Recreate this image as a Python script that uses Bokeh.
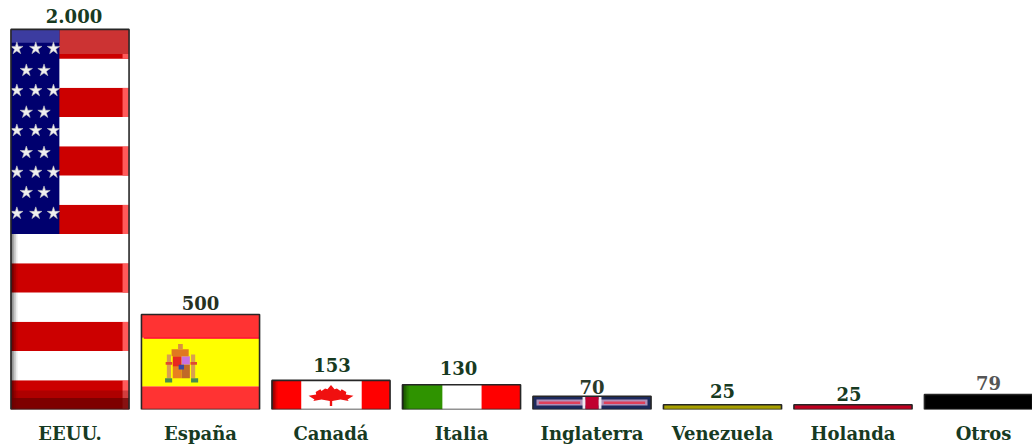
from bokeh.embed import file_html
from bokeh.models import ColumnDataSource, FixedTicker, Range1d
from bokeh.plotting import figure
from bokeh.resources import INLINE

# Thousands of people by country of residence
countries = ["EEUU.", "España", "Canadá", "Italia", "Inglaterra", "Venezuela", "Holanda", "Otros"]
amounts = [2000, 500, 153, 130, 70, 25, 25, 79]
amount_labels = ["2.000", "500", "153", "130", "70", "25", "25", "79"]

BAR_WIDTH = 0.905
BORDER = "#262626"
TEXT_GREEN = "#173a22"

p = figure(width=1032, height=447, output_backend="svg", toolbar_location=None,
           x_range=Range1d(-0.5326, 7.3755), y_range=Range1d(0, 2152),
           min_border_left=0, min_border_right=0, min_border_top=0, min_border_bottom=38,
           background_fill_color="white", border_fill_color="white", outline_line_color=None)
p.grid.visible = False
p.yaxis.visible = False

# Country names sit on the category axis
ax = p.xaxis[0]
ax.ticker = FixedTicker(ticks=list(range(len(countries))))
ax.major_label_overrides = {i: c for i, c in enumerate(countries)}
ax.axis_line_color = None
ax.major_tick_line_color = None
ax.minor_tick_line_color = None
ax.major_label_standoff = 7
ax.major_label_text_font = "DejaVu Serif"
ax.major_label_text_font_style = "bold"
ax.major_label_text_font_size = "18px"
ax.major_label_text_color = TEXT_GREEN

# Flag artwork is described in fractions of its own bar: x from the left, y from the bottom
rects = {"left": [], "right": [], "top": [], "bottom": [], "fill_color": [], "fill_alpha": []}


def band(i, x0, x1, y0, y1, color, alpha=1.0):
    left = i - BAR_WIDTH / 2
    rects["left"].append(left + x0 * BAR_WIDTH)
    rects["right"].append(left + x1 * BAR_WIDTH)
    rects["bottom"].append(y0 * amounts[i])
    rects["top"].append(y1 * amounts[i])
    rects["fill_color"].append(color)
    rects["fill_alpha"].append(alpha)


def edge_shade(i, y0=0.0, y1=1.0, color="#000000", alphas=(0.55, 0.35, 0.2, 0.08), step=0.014):
    for k, a in enumerate(alphas):
        band(i, k * step, (k + 1) * step, y0, y1, color, a)


# United States: thirteen stripes with a canton covering the upper seven
for s in range(13):
    band(0, 0, 1, s / 13, (s + 1) / 13, "#cc0000" if s % 2 == 0 else "#ffffff")
    if s % 2 == 0:
        band(0, 0.945, 1, s / 13, (s + 1) / 13, "#ff5a5a")
band(0, 0, 1, 12 / 13 + 0.012, 1, "#cc3333")
band(0, 0, 0.41, 6 / 13, 1, "#00006e")
band(0, 0, 0.41, 0.965, 1, "#3c3ca0")
edge_shade(0, 0, 6 / 13)
band(0, 0, 1, 0, 0.03, "#6a0000", 0.8)
band(0, 0, 1, 0.03, 0.05, "#6a0000", 0.3)

# Spain: red, yellow, red
band(1, 0, 1, 0, 0.245, "#ff3333")
band(1, 0, 1, 0.245, 0.755, "#ffff00")
band(1, 0, 1, 0.755, 1, "#ff3333")
band(1, 0.02, 1, 0.745, 0.76, "#ff0033")
# Coat of arms: pillars, shield quarters, crown and bases
band(1, 0.215, 0.25, 0.33, 0.58, "#d8a050")
band(1, 0.42, 0.455, 0.33, 0.58, "#d8a050")
band(1, 0.205, 0.26, 0.47, 0.5, "#e04a30")
band(1, 0.415, 0.47, 0.47, 0.5, "#e04a30")
band(1, 0.265, 0.34, 0.45, 0.56, "#e82820")
band(1, 0.34, 0.41, 0.47, 0.56, "#c870e0")
band(1, 0.265, 0.34, 0.33, 0.45, "#e88020")
band(1, 0.34, 0.41, 0.33, 0.47, "#c06a28")
band(1, 0.315, 0.36, 0.42, 0.47, "#3848a0")
band(1, 0.255, 0.4, 0.56, 0.635, "#e07820")
band(1, 0.31, 0.35, 0.635, 0.69, "#d89040")
band(1, 0.2, 0.26, 0.285, 0.33, "#4a8a50")
band(1, 0.42, 0.48, 0.285, 0.33, "#4a8a50")

# Canada: red, white, red
band(2, 0, 0.25, 0, 1, "#ff0000")
band(2, 0.25, 0.76, 0, 1, "#ffffff")
band(2, 0.76, 1, 0, 1, "#ff0000")
edge_shade(2, step=0.012)

# Italy: green, white, red
band(3, 0, 0.34, 0, 1, "#2f9300")
band(3, 0.34, 0.67, 0, 1, "#ffffff")
band(3, 0.67, 1, 0, 1, "#ff0000")
edge_shade(3, step=0.014)

# United Kingdom, squeezed into a thin strip
band(4, 0, 1, 0, 1, "#1c2a5c")
band(4, 0.03, 0.97, 0.3, 0.75, "#b090b8")
band(4, 0.05, 0.4, 0.42, 0.6, "#e0405a")
band(4, 0.6, 0.95, 0.42, 0.6, "#e0405a")
band(4, 0.42, 0.445, 0, 1, "#f0e8f0")
band(4, 0.555, 0.58, 0, 1, "#f0e8f0")
band(4, 0.445, 0.555, 0, 1, "#c00030")

band(5, 0, 1, 0, 1, "#a8a000")
band(6, 0, 1, 0, 1, "#c00020")
band(7, 0, 1, 0, 1, "#000000")

p.quad(source=ColumnDataSource(rects), left="left", right="right", top="top", bottom="bottom",
       fill_color="fill_color", fill_alpha="fill_alpha", line_color=None)

# Maple leaf, drawn in the white band of the Canadian bar
leaf_x = [.50, .47, .45, .42, .41, .37, .375, .31, .36, .35, .42, .49, .49,
          .51, .51, .58, .65, .64, .69, .625, .63, .59, .58, .55, .53]
leaf_y = [.84, .70, .72, .64, .70, .60, .52, .47, .34, .29, .34, .29, .12,
          .12, .29, .34, .29, .34, .47, .52, .60, .70, .64, .72, .70]
p.patch([2 - BAR_WIDTH / 2 + x * BAR_WIDTH for x in leaf_x],
        [y * amounts[2] for y in leaf_y], fill_color="#f01010", line_color=None)

# Stars on the canton, alternating rows of three and two
star_rows = [(.95, (.05, .21, .36)), (.892, (.13, .28)), (.839, (.05, .21, .36)),
             (.782, (.13, .28)), (.734, (.05, .21, .36)), (.676, (.13, .28)),
             (.624, (.05, .21, .36)), (.571, (.13, .28)), (.516, (.05, .21, .36))]
star_x, star_y = [], []
for fy, xs in star_rows:
    for fx in xs:
        star_x.append(-BAR_WIDTH / 2 + fx * BAR_WIDTH)
        star_y.append(fy * amounts[0])
p.scatter(star_x, star_y, marker="star", size=13, fill_color="#f0f0f0", line_color="#c0c0c0", line_width=0.6)

# Bar frames follow the amounts
positions = list(range(len(countries)))
frames = ColumnDataSource(dict(x=positions, top=amounts))
p.vbar(x="x", top="top", bottom=0, width=BAR_WIDTH, source=frames,
       fill_color=None, line_color=BORDER, line_width=1.6)

# Amount labels above each bar, nudged clear of neighbouring artwork
labels = ColumnDataSource(dict(
    x=positions, y=amounts, text=amount_labels,
    dx=[4, 0, 1, -3, 0, 0, -4, 5],
    off=[-6, -4, -8, -10, -2, -7, -4, -4],
    color=[TEXT_GREEN, "#26301f", TEXT_GREEN, TEXT_GREEN, "#2a3a2a", TEXT_GREEN, TEXT_GREEN, "#555555"],
))
p.text(x="x", y="y", text="text", x_offset="dx", y_offset="off", source=labels, text_color="color",
       text_align="center", text_baseline="bottom", text_font_size="18px",
       text_font={"value": "DejaVu Serif"}, text_font_style="bold")

open("out.html", "w").write(file_html(p, INLINE))
